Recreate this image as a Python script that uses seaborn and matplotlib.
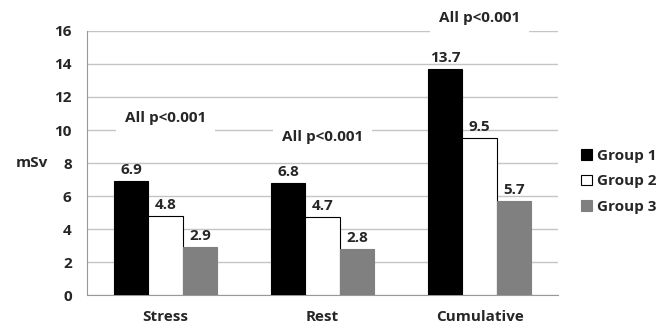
import matplotlib
matplotlib.use("Agg")
import matplotlib.pyplot as plt
import seaborn as sns
import pandas as pd
from matplotlib.patches import Patch

categories = ["Stress", "Rest", "Cumulative"]
groups = ["Group 1", "Group 2", "Group 3"]
group1 = [6.9, 6.8, 13.7]
group2 = [4.8, 4.7, 9.5]
group3 = [2.9, 2.8, 5.7]
pvalue_text = ["All p<0.001", "All p<0.001", "All p<0.001"]
pvalue_y = [10.7, 9.6, 16.8]
yticks = [0, 2, 4, 6, 8, 10, 12, 14, 16]

df = pd.DataFrame({
    "category": categories * 3,
    "group": [g for g in groups for _ in categories],
    "value": group1 + group2 + group3,
})

colors = {"Group 1": "#000000", "Group 2": "#ffffff", "Group 3": "#808080"}
edges = {"Group 1": "#000000", "Group 2": "#000000", "Group 3": "#808080"}

sns.set_style("white")
plt.rcParams["font.family"] = ["Open Sans", "DejaVu Sans"]

fig = plt.figure(figsize=(6.66, 3.29), dpi=100)
ax = fig.add_axes([0.1306, 0.1033, 0.7074, 0.8025])

sns.barplot(data=df, x="category", y="value", hue="group", order=categories,
            hue_order=groups, palette=colors, width=0.66, gap=0, ax=ax,
            legend=False, zorder=3)

for cont, g in zip(ax.containers, groups):
    for p in cont:
        p.set_edgecolor(edges[g])
        p.set_linewidth(0.8)
    ax.bar_label(cont, fmt="%.1f", padding=3, fontsize=11, fontweight="bold")

ax.set_ylim(0, 16)
ax.set_xlim(-0.5, 2.5)
ax.set_yticks(yticks)
ax.yaxis.grid(True, color="#c4c4c4", linewidth=1.0, zorder=0)
ax.set_axisbelow(True)
for lbl in ax.get_yticklabels():
    lbl.set_fontweight("bold")
ax.tick_params(axis="y", labelsize=11, length=5, color="#999999", pad=6)
ax.tick_params(axis="x", which="major", length=0, pad=11, labelsize=11)
for lbl in ax.get_xticklabels():
    lbl.set_fontweight("bold")
ax.set_xticks([-0.5, 0.5, 1.5, 2.5], minor=True)
ax.tick_params(axis="x", which="minor", length=5, color="#999999", direction="out")

for s in ["top", "right"]:
    ax.spines[s].set_visible(False)
ax.spines["left"].set_color("#999999")
ax.spines["bottom"].set_color("#999999")

ax.set_xlabel("")
ax.set_ylabel("mSv", rotation=0, fontsize=11, fontweight="bold", labelpad=16, va="center")

for i, (txt, yv) in enumerate(zip(pvalue_text, pvalue_y)):
    ax.text(i, yv, txt, ha="center", va="center", fontsize=11, fontweight="bold",
            clip_on=False, zorder=5,
            bbox=dict(facecolor="white", edgecolor="none", boxstyle="square,pad=0.6"))

handles = [Patch(facecolor=colors[g], edgecolor=edges[g] if g != "Group 3" else colors[g],
                 linewidth=0.8) for g in groups]
leg = ax.legend(handles, groups, loc="center left", bbox_to_anchor=(1.02, 0.43),
                frameon=False, handlelength=0.7, handleheight=0.7, handletextpad=0.3,
                labelspacing=0.75, prop={"weight": "bold", "size": 11})

fig.savefig("out.png", dpi=100)
